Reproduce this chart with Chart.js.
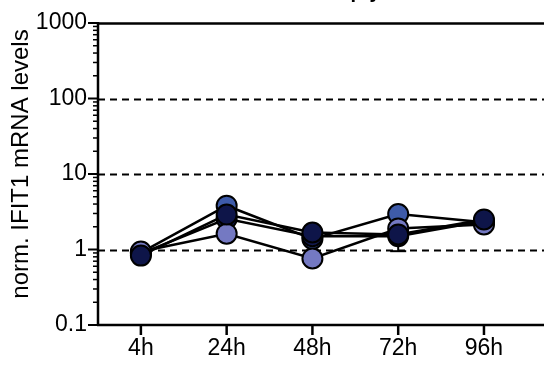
<!DOCTYPE html>
<html>
<head>
<meta charset="utf-8">
<script src="https://cdn.jsdelivr.net/npm/chart.js@4"></script>
<style>
html,body{margin:0;padding:0;background:#fff;}
#wrap{width:556px;height:365px;position:relative;}
</style>
</head>
<body>
<div id="wrap"><canvas id="c" width="556" height="365"></canvas></div>
<script>
const categories = ['4h', '24h', '48h', '72h', '96h'];
const seriesLight  = [0.94, 1.62, 0.76, 1.90, 2.15];
const seriesMedium = [0.91, 3.80, 1.38, 2.95, 2.30];
const seriesDark1  = [0.83, 2.90, 1.68, 1.58, 2.50];
const seriesDark2  = [0.88, 2.55, 1.50, 1.50, 2.38];
const errLow  = [null, null, 0.78, 0.95, null];
const errHigh = [null, null, 2.05, 2.00, null];
const yTicks = [0.1, 1, 10, 100, 1000];
const dashedAt = [1, 10, 100];
const titleText = 'Empty';
const yTitle = 'norm. IFIT1 mRNA levels';

const FONT = 'Liberation Sans, Arial, sans-serif';

const axesPlugin = {
  id: 'axesPlugin',
  beforeDatasetsDraw(chart) {
    const ctx = chart.ctx;
    const y = chart.scales.y, x = chart.scales.x;
    const ca = chart.chartArea;
    ctx.save();
    ctx.strokeStyle = '#000';
    ctx.lineWidth = 2;
    ctx.setLineDash([7, 5]);
    dashedAt.forEach(v => {
      const py = Math.round(y.getPixelForValue(v)) + 0.5;
      ctx.beginPath(); ctx.moveTo(ca.left, py); ctx.lineTo(ca.right, py); ctx.stroke();
    });
    ctx.setLineDash([]);
    const pt = Math.round(y.getPixelForValue(1000)) + 0.5;
    ctx.lineWidth = 2.5;
    ctx.beginPath(); ctx.moveTo(ca.left, pt); ctx.lineTo(ca.right, pt); ctx.stroke();
    ctx.beginPath(); ctx.moveTo(ca.left, ca.top - 1); ctx.lineTo(ca.left, ca.bottom + 1); ctx.stroke();
    ctx.beginPath(); ctx.moveTo(ca.left - 1, ca.bottom); ctx.lineTo(ca.right, ca.bottom); ctx.stroke();
    for (let d = 0; d < yTicks.length; d++) {
      const base = yTicks[d];
      const py = y.getPixelForValue(base);
      ctx.lineWidth = 2;
      ctx.beginPath(); ctx.moveTo(ca.left - 10, py); ctx.lineTo(ca.left, py); ctx.stroke();
      if (d < yTicks.length - 1) {
        for (let m = 2; m <= 9; m++) {
          const pm = y.getPixelForValue(base * m);
          ctx.lineWidth = 1.5;
          ctx.beginPath(); ctx.moveTo(ca.left - 5, pm); ctx.lineTo(ca.left, pm); ctx.stroke();
        }
      }
    }
    ctx.lineWidth = 2.5;
    categories.forEach((c, i) => {
      const px = x.getPixelForValue(i);
      ctx.beginPath(); ctx.moveTo(px, ca.bottom); ctx.lineTo(px, ca.bottom + 10); ctx.stroke();
    });
    ctx.lineWidth = 2;
    errLow.forEach((lo, i) => {
      if (lo == null) return;
      const px = x.getPixelForValue(i);
      const p1 = y.getPixelForValue(lo), p2 = y.getPixelForValue(errHigh[i]);
      ctx.beginPath(); ctx.moveTo(px, p1); ctx.lineTo(px, p2); ctx.stroke();
      ctx.beginPath(); ctx.moveTo(px - 8, p1); ctx.lineTo(px + 8, p1); ctx.stroke();
      ctx.beginPath(); ctx.moveTo(px - 8, p2); ctx.lineTo(px + 8, p2); ctx.stroke();
    });
    ctx.restore();
  },
  afterDraw(chart) {
    const ctx = chart.ctx;
    const ca = chart.chartArea;
    ctx.save();
    ctx.fillStyle = '#000';
    ctx.font = 'bold 20px ' + FONT;
    ctx.textAlign = 'center';
    ctx.textBaseline = 'alphabetic';
    ctx.fillText(titleText, (ca.left + ca.right) / 2 + 29, -2);
    ctx.restore();
    ctx.save();
    ctx.translate(21, 164);
    ctx.rotate(-Math.PI / 2);
    ctx.fillStyle = '#000';
    ctx.font = '24px ' + FONT;
    ctx.textAlign = 'center';
    ctx.textBaseline = 'middle';
    ctx.fillText(yTitle, 0, 0);
    ctx.restore();
  }
};

function ds(label, vals, color, order) {
  return {
    label, data: vals.map((v, i) => ({ x: i, y: v })),
    borderColor: '#000', borderWidth: 2.5,
    pointBackgroundColor: color, pointBorderColor: '#000', pointBorderWidth: 2,
    pointRadius: 10, pointHoverRadius: 10,
    tension: 0, fill: false, order
  };
}

new Chart(document.getElementById('c'), {
  type: 'line',
  data: {
    datasets: [
      ds('light', seriesLight, '#7479c2', 1),
      ds('medium', seriesMedium, '#3e5ba9', 4),
      ds('dark2', seriesDark2, '#121a52', 3),
      ds('dark1', seriesDark1, '#0e1549', 0)
    ]
  },
  options: {
    responsive: false,
    animation: false,
    events: [],
    layout: { padding: { top: 23, right: 0, left: 0, bottom: 0 } },
    plugins: { legend: { display: false }, tooltip: { enabled: false } },
    scales: {
      x: {
        type: 'linear',
        min: -0.5, max: 4.7,
        afterBuildTicks(s) { s.ticks = categories.map((c, i) => ({ value: i })); },
        grid: { display: true, drawOnChartArea: false, drawTicks: true, tickLength: 10, color: 'rgba(0,0,0,0)' },
        border: { display: false },
        ticks: { color: '#000', font: { family: FONT, size: 23 }, padding: 0, maxRotation: 0, autoSkip: false,
          callback: (v) => categories[v] },
        afterFit(s) { s.height = 40; }
      },
      y: {
        type: 'logarithmic',
        min: 0.1, max: 1000,
        afterBuildTicks(s) { s.ticks = yTicks.map(v => ({ value: v })); },
        grid: { display: true, drawOnChartArea: false, drawTicks: true, tickLength: 10, color: 'rgba(0,0,0,0)' },
        border: { display: false },
        ticks: {
          color: '#000', font: { family: FONT, size: 23 }, padding: 1,
          callback: (v) => String(v)
        },
        title: { display: false },
        afterFit(s) { s.width = 98; }
      }
    }
  },
  plugins: [axesPlugin]
});
</script>
</body>
</html>
